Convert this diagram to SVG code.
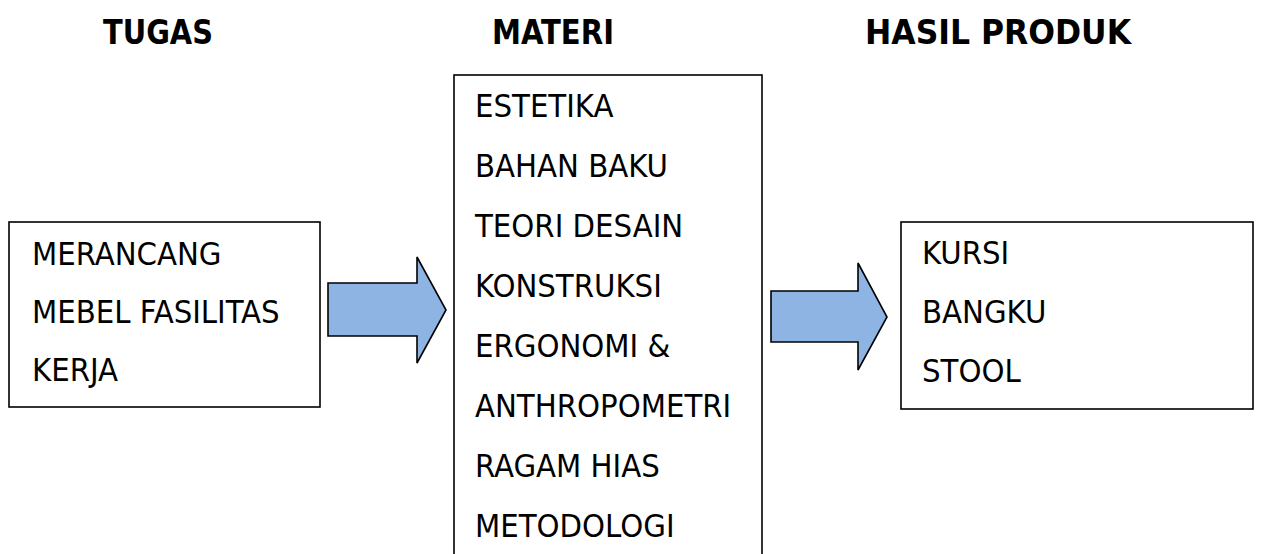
<svg xmlns="http://www.w3.org/2000/svg" width="1264" height="554" viewBox="0 0 1264 554">
  <defs>
    <style>
      .title { font-family: "DejaVu Sans Condensed", "DejaVu Sans", sans-serif; font-stretch: condensed; font-weight: bold; font-size: 33px; fill: #000; }
      .item { font-family: "DejaVu Sans Condensed", "DejaVu Sans", sans-serif; font-stretch: condensed; font-size: 32.5px; fill: #000; }
      .box { fill: #fff; stroke: #000; stroke-width: 1.6; }
      .arrow { fill: #8EB4E3; stroke: #000; stroke-width: 1.6; stroke-linejoin: miter; }
    </style>
  </defs>
  <rect width="1264" height="554" fill="#fff"/>

  <!-- column headings -->
  <g id="headings">
    <text class="title" x="103" y="44" textLength="110" lengthAdjust="spacingAndGlyphs">TUGAS</text>
    <text class="title" x="492" y="44" textLength="122" lengthAdjust="spacingAndGlyphs">MATERI</text>
    <text class="title" x="865" y="44" textLength="266" lengthAdjust="spacingAndGlyphs">HASIL PRODUK</text>
  </g>

  <!-- task -->
  <g id="tugas">
    <rect class="box" x="9" y="222" width="311" height="185"/>
    <text class="item" x="32" y="265">MERANCANG</text>
    <text class="item" x="32" y="323">MEBEL FASILITAS</text>
    <text class="item" x="32" y="381">KERJA</text>
  </g>

  <!-- subject matter -->
  <g id="materi">
    <rect class="box" x="454" y="75" width="308" height="500"/>
    <text class="item" x="475" y="117">ESTETIKA</text>
    <text class="item" x="475" y="177">BAHAN BAKU</text>
    <text class="item" x="475" y="237">TEORI DESAIN</text>
    <text class="item" x="475" y="297">KONSTRUKSI</text>
    <text class="item" x="475" y="357">ERGONOMI &amp;</text>
    <text class="item" x="475" y="417">ANTHROPOMETRI</text>
    <text class="item" x="475" y="477">RAGAM HIAS</text>
    <text class="item" x="475" y="537">METODOLOGI</text>
  </g>

  <!-- resulting products -->
  <g id="hasil-produk">
    <rect class="box" x="901" y="222" width="352" height="187"/>
    <text class="item" x="922" y="264">KURSI</text>
    <text class="item" x="922" y="323">BANGKU</text>
    <text class="item" x="922" y="382">STOOL</text>
  </g>

  <!-- block arrows between columns -->
  <g id="connectors">
    <polygon class="arrow" points="328,283 417,283 417,257 446,310 417,363 417,336 328,336"/>
    <polygon class="arrow" points="771,291 858,291 858,263 887,317 858,370 858,342 771,342"/>
  </g>
</svg>
